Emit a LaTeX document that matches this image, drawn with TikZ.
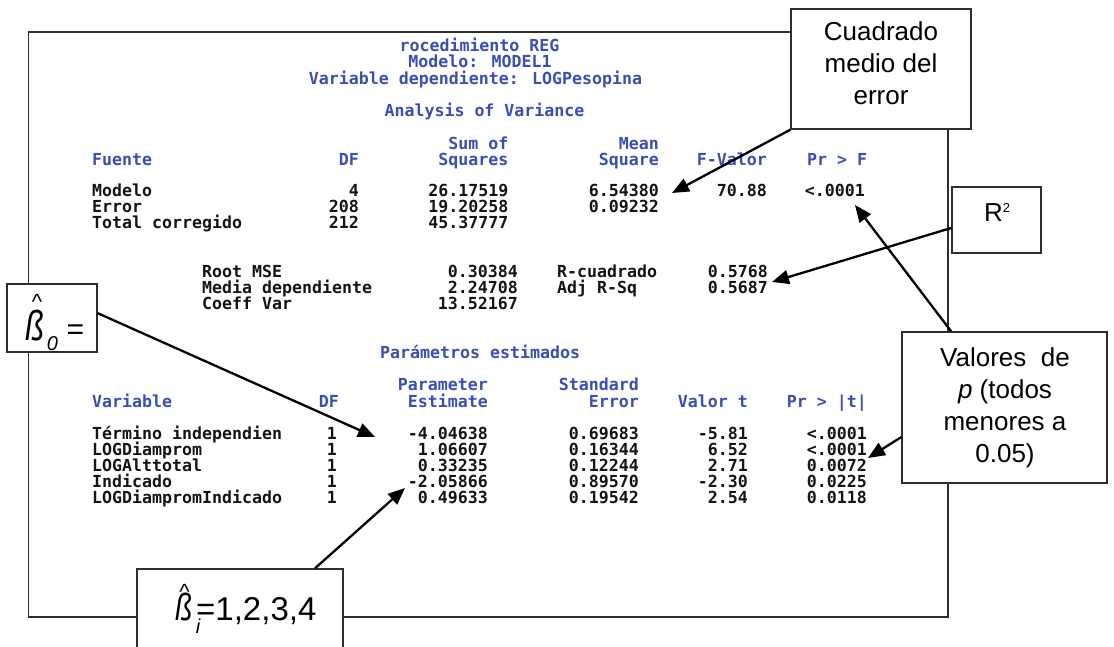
\documentclass[tikz,border=0pt]{standalone}
\usepackage{fontspec}
\setmainfont{Liberation Sans}
\newfontfamily\sasfont{DejaVu Sans Mono}
\usetikzlibrary{arrows.meta}
\definecolor{sasblue}{RGB}{58,78,180}
\definecolor{sasblack}{RGB}{20,20,20}
\definecolor{edge}{RGB}{45,45,45}
\tikzset{
  sas/.style={font=\sasfont\bfseries\fontsize{16.6pt}{18pt}\selectfont, inner sep=0pt, text=sasblack},
  sashd/.style={sas, text=sasblue},
  notebox/.style={draw=edge, line width=1.5pt, fill=white, inner sep=0pt},
  notetxt/.style={font=\fontsize{26pt}{32pt}\selectfont, align=center, inner sep=0pt},
  glyph/.style={inner sep=0pt, anchor=base},
  callout/.style={draw=black, line width=2.3pt, -{Triangle[length=17pt,width=14pt]}},
}
\begin{document}
\begin{tikzpicture}[x=1pt,y=-1pt]
\useasboundingbox (0,0) rectangle (1114,647);
\clip (0,0) rectangle (1114,647);
\fill[white] (0,0) rectangle (1114,647);
\node[draw=edge, line width=1.5pt, minimum width=919.4pt, minimum height=585pt, inner sep=0pt] (frame) at (488.3,324.5) {};

% headers
\node[sashd, anchor=base] (h1) at (479.5,52) {rocedimiento REG};
\node[sashd, anchor=base] (h2) at (480,68) {Modelo: MODEL1};
\node[sashd, anchor=base] (h3) at (475.5,85) {Variable dependiente: LOGPesopina};
\node[sashd, anchor=base] (h4) at (484.5,117) {Analysis of Variance};

% ANOVA header
\node[sashd, anchor=base west] (aF) at (92,166) {Fuente};
\node[sashd, anchor=base east] (aDF) at (359,166) {DF};
\node[sashd, anchor=base east] (aS1) at (508.5,150) {Sum of};
\node[sashd, anchor=base east] (aS2) at (508.5,166) {Squares};
\node[sashd, anchor=base east] (aM1) at (659,150) {Mean};
\node[sashd, anchor=base east] (aM2) at (659,166) {Square};
\node[sashd, anchor=base east] (aFV) at (767,166) {F-Valor};
\node[sashd, anchor=base west] (aPr) at (807,166) {Pr > F};

% ANOVA rows
\node[sas, anchor=base west] (r1a) at (92,197) {Modelo};
\node[sas, anchor=base west] (r2a) at (92,213) {Error};
\node[sas, anchor=base west] (r3a) at (92,229) {Total corregido};
\node[sas, anchor=base east] (r1b) at (359,197) {4};
\node[sas, anchor=base east] (r2b) at (359,213) {208};
\node[sas, anchor=base east] (r3b) at (359,229) {212};
\node[sas, anchor=base east] (r1c) at (508.5,197) {26.17519};
\node[sas, anchor=base east] (r2c) at (508.5,213) {19.20258};
\node[sas, anchor=base east] (r3c) at (508.5,229) {45.37777};
\node[sas, anchor=base east] (r1d) at (659,197) {6.54380};
\node[sas, anchor=base east] (r2d) at (659,213) {0.09232};
\node[sas, anchor=base east] (r1e) at (767,197) {70.88};
\node[sas, anchor=base east] (r1f) at (865,197) {<.0001};

% fit statistics
\node[sas, anchor=base west] (f1a) at (202,277) {Root MSE};
\node[sas, anchor=base west] (f2a) at (202,293) {Media dependiente};
\node[sas, anchor=base west] (f3a) at (202,309) {Coeff Var};
\node[sas, anchor=base east] (f1b) at (518,277) {0.30384};
\node[sas, anchor=base east] (f2b) at (518,293) {2.24708};
\node[sas, anchor=base east] (f3b) at (518,309) {13.52167};
\node[sas, anchor=base west] (f1c) at (557,277) {R-cuadrado};
\node[sas, anchor=base west] (f2c) at (557,293) {Adj R-Sq};
\node[sas, anchor=base east] (f1d) at (768,277) {0.5768};
\node[sas, anchor=base east] (f2d) at (768,293) {0.5687};

% parameter estimates header
\node[sashd, anchor=base west] (pT) at (380,358) {Parámetros estimados};
\node[sashd, anchor=base west] (pV) at (92,407) {Variable};
\node[sashd, anchor=base east] (pDF) at (339,407) {DF};
\node[sashd, anchor=base east] (pP1) at (488,390) {Parameter};
\node[sashd, anchor=base east] (pP2) at (488,407) {Estimate};
\node[sashd, anchor=base east] (pS1) at (639,390) {Standard};
\node[sashd, anchor=base east] (pS2) at (639,407) {Error};
\node[sashd, anchor=base east] (pT2) at (748,407) {Valor t};
\node[sashd, anchor=base east] (pPr) at (867,407) {Pr > |t|};

% parameter rows
\node[sas, anchor=base west] (q1a) at (92,439) {Término independien};
\node[sas, anchor=base west] (q2a) at (92,455) {LOGDiamprom};
\node[sas, anchor=base west] (q3a) at (92,471) {LOGAlttotal};
\node[sas, anchor=base west] (q4a) at (92,487) {Indicado};
\node[sas, anchor=base west] (q5a) at (92,503) {LOGDiampromIndicado};
\node[sas, anchor=base east] (q1b) at (337,439) {1};
\node[sas, anchor=base east] (q2b) at (337,455) {1};
\node[sas, anchor=base east] (q3b) at (337,471) {1};
\node[sas, anchor=base east] (q4b) at (337,487) {1};
\node[sas, anchor=base east] (q5b) at (337,503) {1};
\node[sas, anchor=base east] (q1c) at (488,439) {-4.04638};
\node[sas, anchor=base east] (q2c) at (488,455) {1.06607};
\node[sas, anchor=base east] (q3c) at (488,471) {0.33235};
\node[sas, anchor=base east] (q4c) at (488,487) {-2.05866};
\node[sas, anchor=base east] (q5c) at (488,503) {0.49633};
\node[sas, anchor=base east] (q1d) at (639,439) {0.69683};
\node[sas, anchor=base east] (q2d) at (639,455) {0.16344};
\node[sas, anchor=base east] (q3d) at (639,471) {0.12244};
\node[sas, anchor=base east] (q4d) at (639,487) {0.89570};
\node[sas, anchor=base east] (q5d) at (639,503) {0.19542};
\node[sas, anchor=base east] (q1e) at (748,439) {-5.81};
\node[sas, anchor=base east] (q2e) at (748,455) {6.52};
\node[sas, anchor=base east] (q3e) at (748,471) {2.71};
\node[sas, anchor=base east] (q4e) at (748,487) {-2.30};
\node[sas, anchor=base east] (q5e) at (748,503) {2.54};
\node[sas, anchor=base east] (q1f) at (867,439) {<.0001};
\node[sas, anchor=base east] (q2f) at (867,455) {<.0001};
\node[sas, anchor=base east] (q3f) at (867,471) {0.0072};
\node[sas, anchor=base east] (q4f) at (867,487) {0.0225};
\node[sas, anchor=base east] (q5f) at (867,503) {0.0118};

% callout boxes
\node[notebox, minimum width=180pt, minimum height=120pt] (cme) at (881,69) {};
\node[notetxt] (cmet) at (881,63.5) {Cuadrado\\medio del\\error};

\node[notebox, minimum width=89pt, minimum height=66pt] (r2) at (996.5,220) {};
\node[glyph, font=\fontsize{26pt}{26pt}\selectfont] (r2t) at (997,222) {R\raisebox{9.4pt}{\fontsize{13pt}{13pt}\selectfont 2}};

\node[notebox, minimum width=205pt, minimum height=151pt] (val) at (1004.5,407.5) {};
\node[notetxt] (valt) at (1005,408) {Valores~~de\\\textit{p} (todos\\menores a\\0.05)};

\node[notebox, minimum width=90pt, minimum height=68pt] (b0) at (52,318) {};
\node[glyph, font=\fontsize{22pt}{22pt}\selectfont] (b0hat) at (37,309) {\textasciicircum};
\node[glyph, font=\itshape\fontsize{42pt}{42pt}\selectfont] (b0beta) at (35.5,340) {\scalebox{0.75}[1]{ß}};
\node[glyph, font=\itshape\fontsize{20pt}{20pt}\selectfont] (b0sub) at (52.5,350) {0};
\node[glyph, font=\fontsize{30pt}{30pt}\selectfont] (b0eq) at (75.5,339) {=};

\node[notebox, minimum width=206pt, minimum height=96pt] (bi) at (240,617) {};
\node[glyph, font=\fontsize{22pt}{22pt}\selectfont] (bihat) at (184.5,599) {\textasciicircum};
\node[glyph, font=\itshape\fontsize{38pt}{38pt}\selectfont] (bibeta) at (184,620) {\scalebox{0.75}[1]{ß}};
\node[glyph, font=\itshape\fontsize{20pt}{20pt}\selectfont] (bisub) at (198,633) {i};
\node[glyph, anchor=base west, font=\fontsize{33pt}{33pt}\selectfont] (bival) at (196,620) {=1,2,3,4};

% arrows
\coordinate (t1) at (672,193);
\coordinate (t2) at (772,282);
\coordinate (t3) at (855,205);
\coordinate (t4) at (868,458);
\coordinate (t5) at (375,437);
\coordinate (t6) at (405,488);
\draw[callout] (cme.south west) -- (t1);
\draw[callout] (r2.190) -- (t2);
\draw[callout] (val.125) -- (t3);
\draw[callout] (val.196) -- (t4);
\draw[callout] (b0.6) -- (t5);
\draw[callout] (bi.33) -- (t6);
\end{tikzpicture}
\end{document}
